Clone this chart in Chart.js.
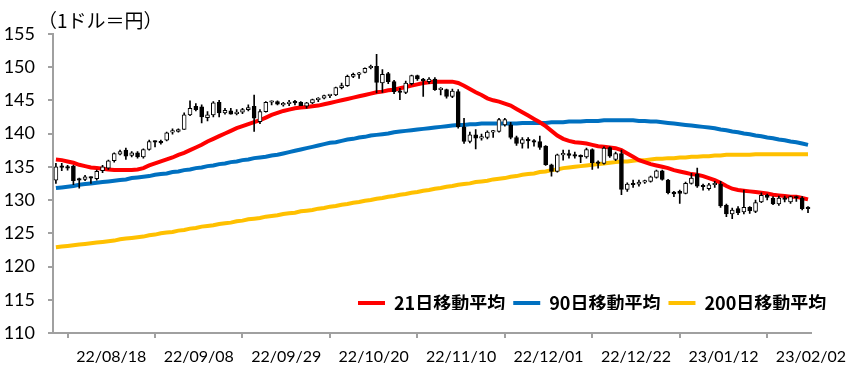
<!DOCTYPE html>
<html><head><meta charset="utf-8">
<script src="https://cdn.jsdelivr.net/npm/chart.js@4.4.1/dist/chart.umd.min.js"></script>
<style>html,body{margin:0;padding:0;background:#fff}</style>
</head><body>
<canvas id="c" width="855" height="378"></canvas>
<script>
// ---- data ----
const categories = [
'22/08/05','22/08/08','22/08/09','22/08/10','22/08/11','22/08/12','22/08/15','22/08/16','22/08/17','22/08/18','22/08/19',
'22/08/22','22/08/23','22/08/24','22/08/25','22/08/26','22/08/29','22/08/30','22/08/31','22/09/01','22/09/02',
'22/09/05','22/09/06','22/09/07','22/09/08','22/09/09','22/09/12','22/09/13','22/09/14','22/09/15','22/09/16',
'22/09/19','22/09/20','22/09/21','22/09/22','22/09/23','22/09/26','22/09/27','22/09/28','22/09/29','22/09/30',
'22/10/03','22/10/04','22/10/05','22/10/06','22/10/07','22/10/10','22/10/11','22/10/12','22/10/13','22/10/14',
'22/10/17','22/10/18','22/10/19','22/10/20','22/10/21','22/10/24','22/10/25','22/10/26','22/10/27','22/10/28',
'22/10/31','22/11/01','22/11/02','22/11/03','22/11/04','22/11/07','22/11/08','22/11/09','22/11/10','22/11/11',
'22/11/14','22/11/15','22/11/16','22/11/17','22/11/18','22/11/21','22/11/22','22/11/23','22/11/24','22/11/25',
'22/11/28','22/11/29','22/11/30','22/12/01','22/12/02','22/12/05','22/12/06','22/12/07','22/12/08','22/12/09',
'22/12/12','22/12/13','22/12/14','22/12/15','22/12/16','22/12/19','22/12/20','22/12/21','22/12/22','22/12/23',
'22/12/26','22/12/27','22/12/28','22/12/29','22/12/30','23/01/02','23/01/03','23/01/04','23/01/05','23/01/06',
'23/01/09','23/01/10','23/01/11','23/01/12','23/01/13','23/01/16','23/01/17','23/01/18','23/01/19','23/01/20',
'23/01/23','23/01/24','23/01/25','23/01/26','23/01/27','23/01/30','23/01/31','23/02/01','23/02/02'];

const open = [
133.0,135.0,134.9,135.1,133.2,133.1,133.4,133.2,134.4,134.8,135.9,136.9,137.5,136.7,137.1,136.5,137.6,138.8,138.7,139.0,
140.2,140.3,140.6,142.8,144.1,144.0,142.4,142.8,144.7,143.1,143.4,143.0,143.2,143.6,144.1,141.8,143.3,144.7,144.8,144.3,
144.5,144.7,144.7,144.1,144.6,145.1,145.3,145.7,145.8,146.9,147.2,148.6,148.9,149.2,149.9,150.1,147.6,149.0,147.8,146.4,
146.2,147.5,148.7,148.2,147.8,148.2,146.6,146.6,145.6,146.3,141.0,138.8,139.8,139.3,139.4,140.2,140.3,141.3,141.3,139.4,
138.5,139.1,138.9,138.8,138.1,135.3,134.3,136.8,137.0,136.7,136.6,136.5,137.6,135.6,135.5,137.9,136.1,137.0,131.6,132.4,
132.4,132.7,132.8,133.4,134.4,133.0,131.2,131.3,131.0,132.5,133.9,132.1,131.7,132.3,132.4,129.2,127.9,128.7,128.2,128.9,
128.3,129.7,130.7,130.3,129.4,130.3,129.7,130.4,130.3,128.8];
const high = [
135.5,135.5,135.2,135.2,133.3,133.7,133.5,134.5,135.2,136.0,137.1,137.5,137.8,137.3,137.3,137.7,139.0,138.9,139.0,140.2,
140.7,140.7,143.1,144.9,144.5,144.3,143.3,144.8,145.0,143.8,143.8,143.6,143.8,144.3,145.8,143.6,144.8,144.9,144.9,144.7,
145.0,145.0,144.8,144.7,145.2,145.4,145.8,145.9,147.0,147.6,148.8,149.1,149.2,149.9,150.3,151.9,149.6,149.2,148.0,146.8,
147.9,148.8,148.8,148.3,148.4,148.4,146.9,146.7,146.7,146.6,142.3,140.2,140.6,139.9,140.4,140.5,142.3,142.3,141.7,139.6,
139.4,139.4,139.1,139.6,138.2,135.4,136.9,137.5,137.5,137.2,136.8,137.8,137.7,135.9,138.0,138.0,137.2,137.5,132.6,133.0,
133.0,133.0,133.6,134.5,134.5,133.1,131.3,131.5,132.7,134.0,134.8,132.4,132.5,132.8,132.8,129.4,128.8,129.0,131.5,129.0,
130.0,131.1,130.9,130.5,130.6,130.6,130.6,130.6,130.5,129.0];
const low = [
132.5,134.4,134.5,132.3,131.8,132.9,132.5,133.0,134.1,134.6,135.7,136.8,136.1,136.5,136.3,136.3,137.5,138.0,138.4,138.9,
139.9,140.2,140.6,142.7,143.4,141.6,141.9,142.5,142.5,142.9,142.9,142.8,143.0,143.4,140.3,141.5,143.2,144.3,144.3,144.1,
144.2,144.3,144.2,143.8,144.5,144.8,145.2,145.4,145.7,146.7,147.1,148.4,148.3,149.1,149.7,146.1,146.2,147.5,146.0,145.1,
146.0,147.3,148.0,145.6,147.5,146.5,145.8,145.3,145.4,140.8,138.5,138.6,137.7,139.0,139.2,139.4,140.2,141.1,139.2,138.2,
137.8,137.8,138.1,137.6,135.2,133.6,134.2,136.0,136.3,136.3,135.6,136.3,134.6,134.8,135.4,136.4,135.9,130.8,131.3,131.9,
132.1,132.5,132.7,133.3,133.0,130.9,130.5,129.5,130.9,132.4,131.9,131.5,131.5,131.9,128.9,127.5,127.2,127.8,127.9,128.0,
128.1,129.6,130.0,129.3,129.2,129.7,129.5,129.8,128.5,128.1];
const close = [
135.0,134.9,134.8,132.9,133.0,133.5,133.3,134.3,135.0,135.9,137.0,137.3,136.6,137.1,136.5,137.6,138.8,138.7,138.6,140.1,
140.2,140.6,142.8,143.8,143.6,142.5,142.8,144.6,143.1,143.5,142.9,143.2,143.6,143.9,142.3,143.3,144.7,144.8,144.4,144.5,
144.7,144.6,144.2,144.6,145.1,145.3,145.7,145.8,146.9,147.2,148.6,148.9,149.0,149.8,150.1,147.7,148.9,147.8,146.3,146.2,
147.6,148.7,148.2,147.9,148.2,146.6,146.6,145.6,146.4,141.0,138.8,139.8,139.3,139.5,140.2,140.3,142.1,142.1,139.4,138.5,
139.1,138.9,138.7,137.9,135.3,134.3,136.8,137.0,136.7,136.6,136.5,137.6,135.6,135.5,137.8,136.6,137.0,131.6,132.4,132.3,
132.7,132.8,133.5,134.4,133.1,131.1,130.9,131.0,132.5,133.3,132.1,132.0,132.3,132.5,129.1,127.9,128.5,128.1,128.9,128.4,
129.6,130.7,130.4,129.4,130.3,130.1,130.5,130.3,128.7,128.7];

const ma21 = [
136.1,136.0,135.8,135.6,135.3,135.1,134.9,134.8,134.7,134.6,134.5,134.5,134.5,134.5,134.6,134.8,135.2,135.5,135.8,136.1,
136.4,136.8,137.1,137.5,137.9,138.3,138.8,139.2,139.6,140.0,140.4,140.8,141.1,141.4,141.7,142.0,142.4,142.8,143.1,143.4,
143.6,143.8,143.9,144.0,144.1,144.2,144.4,144.6,144.8,145.0,145.2,145.4,145.6,145.8,146.0,146.2,146.3,146.5,146.6,146.8,
147.0,147.2,147.4,147.6,147.7,147.8,147.8,147.8,147.8,147.6,147.2,146.7,146.2,145.8,145.3,145.0,144.8,144.5,144.2,143.7,
143.2,142.7,142.2,141.7,141.1,140.4,139.7,139.2,138.9,138.7,138.6,138.5,138.3,138.1,138.0,137.9,137.8,137.5,137.0,136.5,
136.0,135.7,135.4,135.2,135.0,134.8,134.5,134.3,134.1,133.9,133.8,133.6,133.3,133.0,132.6,132.1,131.7,131.5,131.4,131.3,
131.2,131.1,131.0,130.8,130.7,130.6,130.5,130.5,130.3,130.1];
const ma90 = [
131.8,131.9,132.0,132.1,132.3,132.4,132.5,132.6,132.7,132.8,132.9,133.0,133.1,133.3,133.4,133.5,133.6,133.8,133.9,134.0,
134.2,134.3,134.5,134.6,134.8,134.9,135.1,135.2,135.4,135.5,135.7,135.8,136.0,136.1,136.3,136.4,136.5,136.7,136.8,137.0,
137.2,137.4,137.6,137.8,138.0,138.2,138.4,138.6,138.7,138.9,139.1,139.2,139.4,139.5,139.7,139.8,139.9,140.0,140.2,140.3,
140.4,140.5,140.6,140.7,140.8,140.9,141.0,141.1,141.2,141.3,141.3,141.4,141.4,141.5,141.5,141.5,141.5,141.5,141.5,141.5,
141.6,141.6,141.6,141.6,141.6,141.7,141.7,141.7,141.8,141.8,141.8,141.9,141.9,141.9,142.0,142.0,142.0,142.0,142.0,142.0,
141.9,141.9,141.8,141.8,141.7,141.6,141.5,141.4,141.3,141.2,141.1,141.0,140.9,140.8,140.6,140.5,140.3,140.2,140.0,139.9,
139.7,139.6,139.4,139.3,139.1,139.0,138.8,138.7,138.5,138.3];
const ma200 = [
122.9,123.0,123.1,123.2,123.3,123.4,123.5,123.6,123.7,123.8,123.9,124.1,124.2,124.3,124.4,124.5,124.7,124.8,125.0,125.1,
125.2,125.4,125.5,125.7,125.8,126.0,126.1,126.2,126.4,126.5,126.6,126.8,126.9,127.1,127.2,127.3,127.5,127.6,127.7,127.9,
128.0,128.1,128.3,128.4,128.5,128.7,128.8,129.0,129.1,129.3,129.4,129.6,129.7,129.9,130.0,130.2,130.3,130.5,130.6,130.8,
130.9,131.1,131.2,131.4,131.5,131.7,131.8,132.0,132.1,132.3,132.4,132.5,132.7,132.8,132.9,133.1,133.2,133.3,133.5,133.6,
133.8,133.9,134.0,134.2,134.3,134.5,134.6,134.8,134.9,135.0,135.1,135.2,135.3,135.4,135.5,135.6,135.7,135.8,135.8,135.9,
136.0,136.0,136.1,136.2,136.2,136.3,136.3,136.4,136.4,136.5,136.5,136.6,136.6,136.7,136.7,136.8,136.8,136.8,136.8,136.8,
136.9,136.9,136.9,136.9,136.9,136.9,136.9,136.9,136.9,136.9];

const tickLabels = ['22/08/18','22/09/08','22/09/29','22/10/20','22/11/10','22/12/01','22/12/22','23/01/12','23/02/02'];
const seriesNames = ['21日移動平均','90日移動平均','200日移動平均'];
const titleText = '（1ドル＝円）';
const yMin = 110, yMax = 155, yStep = 5;

// ---- chart ----
const axisColor = '#a0a0a0';
const xTickPos = tickLabels.map(l => categories.indexOf(l) + 0.5);
const idx = categories.map((_, i) => i);

const legendMover = {
  id: 'legendMover',
  beforeDraw(chart) {
    const lg = chart.legend, ca = chart.chartArea;
    if (!lg) return;
    const pad = lg.options.labels.padding;
    lg.left = ca.left + 305 - pad;
    lg.right = chart.width;
    lg.top = ca.bottom - 47;
    lg.bottom = lg.top + 24;
  }
};

new Chart(document.getElementById('c'), {
  type: 'bar',
  data: {
    datasets: [
      { type: 'line', label: seriesNames[0], data: idx.map(i => ({x: i, y: ma21[i]})),
        borderColor: '#FF0000', backgroundColor: '#FF0000', borderWidth: 4, pointRadius: 0, order: 10 },
      { type: 'line', label: seriesNames[1], data: idx.map(i => ({x: i, y: ma90[i]})),
        borderColor: '#0070C0', backgroundColor: '#0070C0', borderWidth: 4, pointRadius: 0, order: 11 },
      { type: 'line', label: seriesNames[2], data: idx.map(i => ({x: i, y: ma200[i]})),
        borderColor: '#FFC000', backgroundColor: '#FFC000', borderWidth: 4, pointRadius: 0, order: 12 },
      { type: 'bar', label: 'wick', data: idx.map(i => ({x: i, y: [low[i], high[i]]})),
        backgroundColor: '#000', borderWidth: 0, barThickness: 1, grouped: false, order: 2 },
      { type: 'bar', label: 'body', data: idx.map(i => ({x: i, y: [open[i], close[i]]})),
        backgroundColor: idx.map(i => close[i] >= open[i] ? '#ffffff' : '#000000'),
        borderColor: '#000', borderWidth: 1, borderSkipped: false, barThickness: 4,
        minBarLength: 1.5, grouped: false, order: 1 }
    ]
  },
  options: {
    responsive: false,
    animation: false,
    layout: { padding: { left: 0, right: 40, top: 0, bottom: 0 } },
    scales: {
      x: {
        type: 'linear', min: -0.5, max: categories.length - 0.5, offset: false,
        afterBuildTicks: (axis) => { axis.ticks = xTickPos.map(v => ({ value: v })); },
        afterFit: (axis) => { axis.height = 44; },
        ticks: {
          autoSkip: false, maxRotation: 0, padding: 9, color: '#000',
          font: { family: 'Lato', size: 16 },
          callback: (v) => { const k = xTickPos.findIndex(p => Math.abs(p - v) < 1e-6); return k >= 0 ? tickLabels[k] : ''; }
        },
        grid: { drawOnChartArea: false, drawTicks: true, tickLength: 5, color: axisColor, lineWidth: 2 },
        border: { display: true, color: axisColor, width: 2 }
      },
      y: {
        min: yMin, max: yMax,
        afterFit: (axis) => { axis.width = 53; },
        ticks: { stepSize: yStep, padding: 13, color: '#000', font: { family: 'Lato', size: 18 } },
        grid: { drawOnChartArea: false, drawTicks: true, tickLength: 5, color: axisColor, lineWidth: 2 },
        border: { display: true, color: axisColor, width: 2 }
      }
    },
    plugins: {
      tooltip: { enabled: false },
      title: {
        display: true, text: '\u2003\u2003' + titleText, align: 'start', color: '#000',
        font: { family: '"Noto Sans CJK JP", "Noto Sans CJK SC", sans-serif', size: 19, weight: 'normal' },
        padding: { top: 9, bottom: 2 }
      },
      legend: {
        position: 'bottom', align: 'start', maxHeight: 1,
        labels: {
          boxWidth: 27, boxHeight: 4, padding: 8, color: '#000',
          font: { family: '"Noto Sans CJK JP"', size: 18, weight: 'bold' },
          filter: (item) => seriesNames.includes(item.text),
          generateLabels: (chart) => Chart.defaults.plugins.legend.labels.generateLabels(chart)
            .map(it => Object.assign(it, { lineWidth: 0, fillStyle: it.strokeStyle }))
        }
      }
    }
  },
  plugins: [legendMover]
});
</script>
</body></html>
